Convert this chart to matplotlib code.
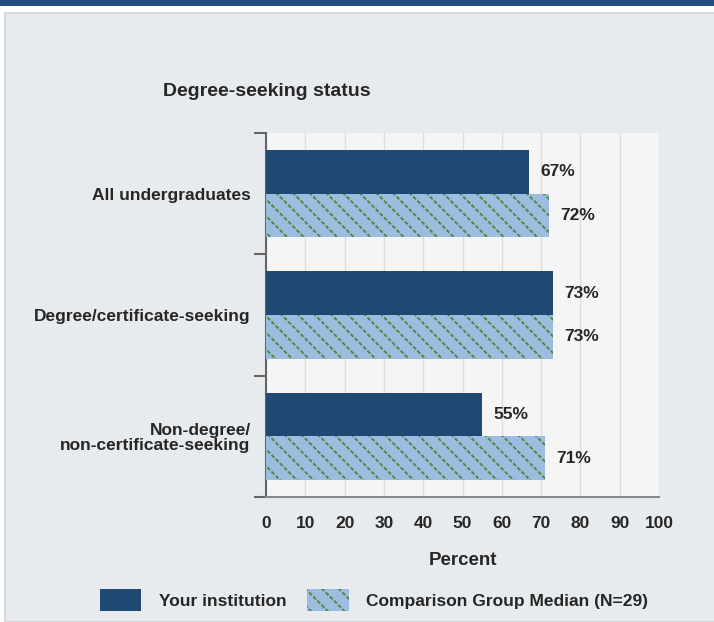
import matplotlib
matplotlib.use("Agg")
import matplotlib.pyplot as plt
from matplotlib.patches import Patch, Rectangle
from matplotlib.legend_handler import HandlerTuple
import numpy as np

categories = ["All undergraduates", "Degree/certificate-seeking",
              "Non-degree/\nnon-certificate-seeking"]
your_inst = [67, 73, 55]
comparison = [72, 73, 71]
xticks = [0, 10, 20, 30, 40, 50, 60, 70, 80, 90, 100]

dark = "#1f4873"
light = "#9dbde0"
green = "#4e8a3e"
txt = "#262626"
fs = 12.5

plt.rcParams["font.family"] = ["Liberation Sans", "DejaVu Sans"]
plt.rcParams["hatch.linewidth"] = 1.4

fig = plt.figure(figsize=(7.14, 6.22), dpi=100)
fig.patch.set_facecolor("white")

# panel background and top stripe
fig.patches.append(Rectangle((5 / 714, 0), 1, 1 - 13 / 622, transform=fig.transFigure,
                             facecolor="#e8ebee", edgecolor="#d2d4d6", linewidth=1.2, zorder=-2))
fig.patches.append(Rectangle((0, 1 - 6 / 622), 1, 6 / 622, transform=fig.transFigure,
                             facecolor="#244c7c", edgecolor="none", zorder=-2))

ax = fig.add_axes([266 / 714, 1 - 497 / 622, 393 / 714, 364 / 622])
ax.set_zorder(1)
ax.set_facecolor("#f5f5f5")

y = np.arange(len(categories))
h = 0.36
b1 = ax.barh(y - h / 2, your_inst, height=h, color=dark, zorder=3)
b2 = ax.barh(y + h / 2, comparison, height=h, color=light, edgecolor=green,
             linewidth=0, hatch="\\\\", zorder=3)
# cut hatch lines into dots
ax.barh(y + h / 2, comparison, height=h, color="none", edgecolor=light,
        linewidth=0, hatch="////", zorder=4)

ax.bar_label(b1, labels=[f"{v}%" for v in your_inst], padding=8,
             fontsize=fs, fontweight="bold", color=txt)
ax.bar_label(b2, labels=[f"{v}%" for v in comparison], padding=8,
             fontsize=fs, fontweight="bold", color=txt)

ax.set_xlim(0, 100)
ax.set_ylim(2.5, -0.5)
ax.set_xticks(xticks)
ax.set_xticklabels([str(v) for v in xticks], fontsize=fs, fontweight="bold", color=txt)
ax.tick_params(axis="x", length=0, pad=14)
ax.set_yticks(y)
ax.set_yticklabels(categories, fontsize=fs, fontweight="bold", color=txt,
                   linespacing=1.0)
ax.tick_params(axis="y", length=0, pad=11)
ax.set_yticks([-0.5, 0.5, 1.5, 2.5], minor=True)
ax.tick_params(axis="y", which="minor", length=9, width=1.5, color="#666666")
ax.grid(axis="x", color="#dddddd", linewidth=1, zorder=0)
ax.set_axisbelow(True)
for s in ["top", "right"]:
    ax.spines[s].set_visible(False)
ax.spines["left"].set_color("#666666")
ax.spines["left"].set_linewidth(1.5)
ax.spines["bottom"].set_color("#888888")
ax.spines["bottom"].set_linewidth(1.5)

ax.set_xlabel("Percent", fontsize=13.5, fontweight="bold", color=txt, labelpad=15)
fig.text(163 / 714, 1 - 92 / 622, "Degree-seeking status", fontsize=14,
         fontweight="bold", color=txt, va="center", ha="left")

h1 = Patch(facecolor=dark, edgecolor="none")
h2a = Patch(facecolor=light, edgecolor=green, linewidth=0, hatch="\\\\")
h2b = Patch(facecolor="none", edgecolor=light, linewidth=0, hatch="////")
fig.legend(handles=[h1, (h2a, h2b)],
           labels=["Your institution", "Comparison Group Median (N=29)"],
           handler_map={tuple: HandlerTuple(ndivide=1, pad=0)},
           loc="center", bbox_to_anchor=(374 / 714, 1 - 600 / 622),
           ncol=2, frameon=False, handlelength=2.4, handleheight=1.5,
           columnspacing=1.2, handletextpad=1.0,
           prop={"size": fs, "weight": "bold"}, labelcolor=txt)

fig.savefig("out.png", dpi=100)
